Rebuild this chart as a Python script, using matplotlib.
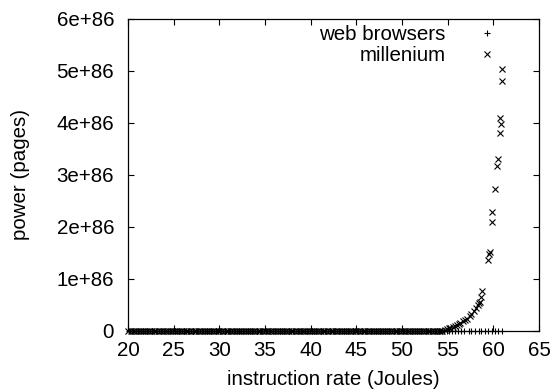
import matplotlib
matplotlib.use("Agg")
import matplotlib.pyplot as plt

plt.rcParams['font.family'] = ['Liberation Sans', 'DejaVu Sans']

# --- data ---
web_x = [20.1, 20.4, 20.6, 20.9, 21.1, 21.4, 21.6, 21.9, 22.1, 22.4, 22.6, 22.9,
         23.1, 23.4, 23.6, 23.9, 24.1, 24.4, 24.6, 24.9, 25.1, 25.4, 25.6, 25.9,
         26.1, 26.4, 26.6, 26.9, 27.1, 27.4, 27.6, 27.9, 28.1, 28.4, 28.6, 28.9,
         29.1, 29.4, 29.6, 29.9, 30.1, 30.4, 30.6, 30.9, 31.1, 31.4, 31.6, 31.9,
         32.1, 32.4, 32.6, 32.9, 33.1, 33.4, 33.6, 33.9, 34.1, 34.4, 34.6, 34.9,
         35.1, 35.4, 35.6, 35.9, 36.1, 36.4, 36.6, 36.9, 37.1, 37.4, 37.6, 37.9,
         38.1, 38.4, 38.6, 38.9, 39.1, 39.4, 39.6, 39.9, 40.1, 40.4, 40.6, 40.9,
         41.1, 41.4, 41.6, 41.9, 42.1, 42.4, 42.6, 42.9, 43.1, 43.4, 43.6, 43.9,
         44.1, 44.4, 44.6, 44.9, 45.1, 45.4, 45.6, 45.9, 46.1, 46.4, 46.6, 46.9,
         47.1, 47.4, 47.6, 47.9, 48.1, 48.4, 48.6, 48.9, 49.1, 49.4, 49.6, 49.9,
         50.1, 50.4, 50.6, 50.9, 51.1, 51.4, 51.6, 51.9, 52.1, 52.4, 52.6, 52.9,
         53.1, 53.4, 53.6, 53.9, 54.1, 54.4, 54.6, 54.9, 55.2, 55.5, 55.8, 56.1,
         56.5, 56.8, 57.3, 57.6, 58.0, 58.4, 58.7, 59.1, 59.4, 59.8, 60.2, 60.5,
         60.9]
web_y = [0.0] * len(web_x)

mill_base_x = [20.0, 20.3, 20.5, 20.8, 21.0, 21.3, 21.5, 21.8, 22.0, 22.3, 22.5, 22.8,
               23.0, 23.3, 23.5, 23.8, 24.0, 24.3, 24.5, 24.8, 25.0, 25.3, 25.5, 25.8,
               26.0, 26.3, 26.5, 26.8, 27.0, 27.3, 27.5, 27.8, 28.0, 28.3, 28.5, 28.8,
               29.0, 29.3, 29.5, 29.8, 30.0, 30.3, 30.5, 30.8, 31.0, 31.3, 31.5, 31.8,
               32.0, 32.3, 32.5, 32.8, 33.0, 33.3, 33.5, 33.8, 34.0, 34.3, 34.5, 34.8,
               35.0, 35.3, 35.5, 35.8, 36.0, 36.3, 36.5, 36.8, 37.0, 37.3, 37.5, 37.8,
               38.0, 38.3, 38.5, 38.8, 39.0, 39.3, 39.5, 39.8, 40.0, 40.3, 40.5, 40.8,
               41.0, 41.3, 41.5, 41.8, 42.0, 42.3, 42.5, 42.8, 43.0, 43.3, 43.5, 43.8,
               44.0, 44.3, 44.5, 44.8, 45.0, 45.3, 45.5, 45.8, 46.0, 46.3, 46.5, 46.8,
               47.0, 47.3, 47.5, 47.8, 48.0, 48.3, 48.5, 48.8, 49.0, 49.3, 49.5, 49.8,
               50.0, 50.3, 50.5, 50.8, 51.0, 51.3, 51.5, 51.8, 52.0, 52.3, 52.5, 52.8,
               53.0, 53.3, 53.5, 53.8, 54.0, 54.2, 54.4]
mill_base_y = [0.0] * len(mill_base_x)

mill_rise_x = [54.7, 54.9, 55.1, 55.3, 55.6, 55.8, 56.0, 56.2, 56.4, 56.7,
               56.9, 57.1, 57.4, 57.6, 57.9, 58.1, 58.3, 58.4, 58.5, 58.7,
               58.8, 59.4, 59.5, 59.6, 59.9, 59.9, 60.2, 60.4, 60.5, 60.7,
               60.8, 60.7, 60.9, 61.0]
mill_rise_y = [0.02, 0.04, 0.05, 0.06, 0.08, 0.10, 0.115, 0.13, 0.15, 0.19,
               0.21, 0.24, 0.29, 0.33, 0.38, 0.44, 0.50, 0.53, 0.56, 0.66,
               0.76, 1.37, 1.48, 1.52, 2.10, 2.28, 2.73, 3.18, 3.31, 3.81,
               3.99, 4.10, 4.81, 5.04]
SCALE = 1e86

mill_x = mill_base_x + mill_rise_x
mill_y = mill_base_y + [v * SCALE for v in mill_rise_y]

x_ticks = [20, 25, 30, 35, 40, 45, 50, 55, 60, 65]
y_ticks = [0, 1e86, 2e86, 3e86, 4e86, 5e86, 6e86]
y_tick_labels = ['0', '1e+86', '2e+86', '3e+86', '4e+86', '5e+86', '6e+86']

# --- figure ---
fig = plt.figure(figsize=(5.56, 3.92), dpi=100)
ax = fig.add_axes([128/556, 1 - 331/392, (539-128)/556, (331-19)/392])

ax.plot(web_x, web_y, linestyle='none', marker='+', markersize=4.2,
        markeredgewidth=0.8, color='black', label='web browsers', clip_on=False)
ax.plot(mill_x, mill_y, linestyle='none', marker='x', markersize=3.8,
        markeredgewidth=0.8, color='black', label='millenium', clip_on=False)

ax.set_xlim(20, 65)
ax.set_ylim(0, 6e86)
ax.set_xticks(x_ticks)
ax.set_xticklabels([str(t) for t in x_ticks])
ax.set_yticks(y_ticks)
ax.set_yticklabels(y_tick_labels)

fs = 14.8
ax.tick_params(direction='in', length=4, width=0.8, top=True, right=True,
               labelsize=fs, colors='black')
ax.tick_params(axis='x', pad=7.5)
ax.tick_params(axis='y', pad=10)
for s in ax.spines.values():
    s.set_linewidth(0.9)
    s.set_color('black')

ax.set_xlabel('instruction rate (Joules)', fontsize=fs, labelpad=7)
ax.set_ylabel('power (pages)', fontsize=fs, labelpad=19)

leg = ax.legend(loc='upper right', bbox_to_anchor=(0.9326, 0.993),
                frameon=False, markerfirst=False, fontsize=fs,
                handletextpad=0.985, handlelength=2.0, labelspacing=0.08,
                borderpad=0.2, borderaxespad=0.0)

fig.savefig('out.png', dpi=100)
